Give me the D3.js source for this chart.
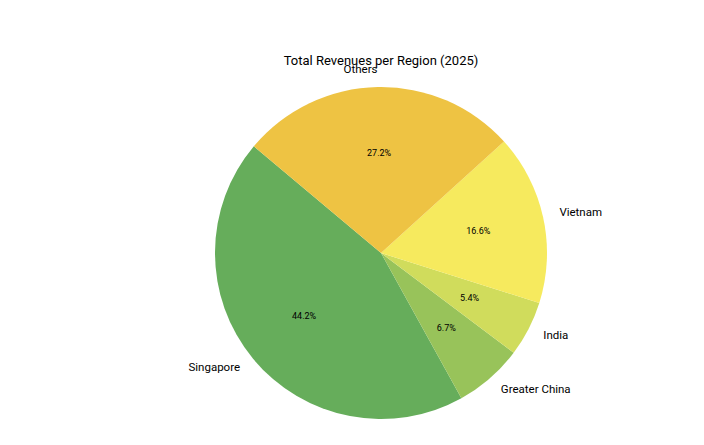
<!DOCTYPE html>
<html>
<head>
<meta charset="utf-8">
<script src="https://cdn.jsdelivr.net/npm/d3@7"></script>
<style>
  body { margin: 0; background: #fff; }
  text { font-family: Roboto, "Noto Sans", sans-serif; }
</style>
</head>
<body>
<div id="chart"></div>
<script>
// Region shares, in the order matplotlib drew them (counterclockwise from 140°)
const regions = ['Singapore', 'Greater China', 'India', 'Vietnam', 'Others'];
const shares = [44.2, 6.7, 5.4, 16.6, 27.2];
const colors = ['#66ad5b', '#98c35a', '#d0dc5c', '#f6ea5e', '#eec343'];

const width = 704, height = 445;
const cx = 381, cy = 253, r = 166;

const svg = d3.select('#chart').append('svg')
    .attr('width', width)
    .attr('height', height);

svg.append('text')
    .attr('x', cx)
    .attr('y', 65)
    .attr('text-anchor', 'middle')
    .style('font-size', '13px')
    .text('Total Revenues per Region (2025)');

const data = regions.map((name, i) => ({ name, value: shares[i], color: colors[i] }));

// startangle 140° (math) -> d3 angle 90-140 = -50°, going counterclockwise
const start = -50 * Math.PI / 180;
const pie = d3.pie()
    .sort(null)
    .value(d => d.value)
    .startAngle(start)
    .endAngle(start - 2 * Math.PI);

const arcs = pie(data);
const arc = d3.arc().innerRadius(0).outerRadius(r);

const g = svg.append('g').attr('transform', `translate(${cx},${cy})`);

g.selectAll('path')
    .data(arcs)
    .enter().append('path')
    .attr('d', arc)
    .attr('fill', d => d.data.color);

const mid = d => (d.startAngle + d.endAngle) / 2;

// category labels at 1.1r
g.selectAll('.lbl')
    .data(arcs)
    .enter().append('text')
    .attr('class', 'lbl')
    .attr('x', d => Math.sin(mid(d)) * r * 1.1)
    .attr('y', d => -Math.cos(mid(d)) * r * 1.1)
    .attr('dy', '0.2em')
    .attr('text-anchor', d => {
        const x = Math.sin(mid(d));
        return Math.abs(x) < 1e-6 ? 'middle' : (x > 0 ? 'start' : 'end');
    })
    .style('font-size', '11.5px')
    .text(d => d.data.name);

// percentages at 0.6r
g.selectAll('.pct')
    .data(arcs)
    .enter().append('text')
    .attr('class', 'pct')
    .attr('x', d => Math.sin(mid(d)) * r * 0.6)
    .attr('y', d => -Math.cos(mid(d)) * r * 0.6)
    .attr('dy', '0.3em')
    .attr('text-anchor', 'middle')
    .style('font-size', '9px')
    .text(d => d.data.value.toFixed(1) + '%');
</script>
</body>
</html>
